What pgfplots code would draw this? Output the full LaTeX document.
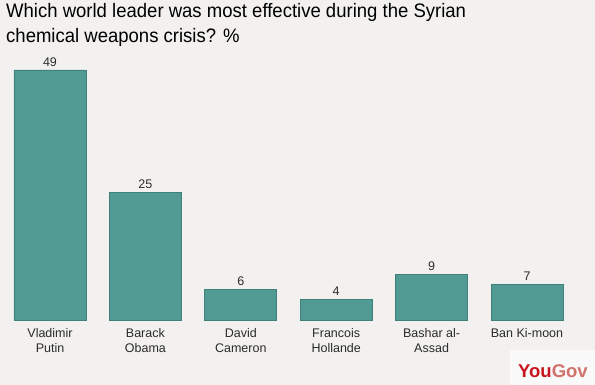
\documentclass[border=0pt]{standalone}
\usepackage{pgfplots}
\pgfplotsset{compat=1.18}
\usepackage{fontspec}
\setmainfont{Liberation Sans}
\definecolor{bg}{HTML}{F2F1EF}
\definecolor{barfill}{HTML}{529A94}
\definecolor{baredge}{HTML}{3F807A}
\definecolor{txt}{HTML}{2B2B2B}
\definecolor{yred}{HTML}{C8141E}
\definecolor{ygov}{HTML}{D2726C}
\begin{document}
\begin{tikzpicture}[x=1pt,y=1pt]
\useasboundingbox (0pt,0pt) rectangle (595pt,385pt);
\path[fill=bg] (0pt,0pt) rectangle (595pt,385pt);
\path[fill=white!60!bg] (510pt,0pt) rectangle (595pt,35pt);
\node[anchor=base west, inner sep=0pt, xscale=0.95, font=\fontsize{19.5}{24}\selectfont, text=black] at (6pt,367pt) {Which world leader was most effective during the Syrian};
\node[anchor=base west, inner sep=0pt, xscale=0.95, font=\fontsize{19.5}{24}\selectfont, text=black] at (6pt,342pt) {chemical weapons crisis? \%};
\node[anchor=base west, inner sep=0pt, font=\fontsize{18.5}{22}\selectfont\bfseries] at (518pt,7pt) {\textcolor{yred}{You}\textcolor{ygov}{Gov}};
\begin{axis}[
  at={(2.3pt,65pt)}, anchor=south west,
  scale only axis, width=572.4pt, height=250pt,
  xmin=-0.5, xmax=5.5, ymin=0, ymax=49,
  axis x line*=bottom, axis y line=none,
  x axis line style={draw=none},
  major tick length=0pt,
  clip=false,
  ybar, bar width=72pt,
  xtick={0,1,2,3,4,5},
  xticklabels={{Vladimir\\Putin},{Barack\\Obama},{David\\Cameron},{Francois\\Hollande},{Bashar al-\\Assad},{Ban Ki-moon}},
  xticklabel style={align=center, font=\fontsize{12.5}{15}\selectfont, text=txt, anchor=north, yshift=-5pt},
  /pgf/number format/assume math mode=true,
  nodes near coords,
  every node near coord/.append style={font=\fontsize{12.5}{15}\selectfont, text=txt},
  ytick=\empty,
]
\addplot[fill=barfill, draw=baredge, line width=0.8pt] coordinates {(0,49) (1,25) (2,6) (3,4) (4,9) (5,7)};
\end{axis}
\end{tikzpicture}
\end{document}
